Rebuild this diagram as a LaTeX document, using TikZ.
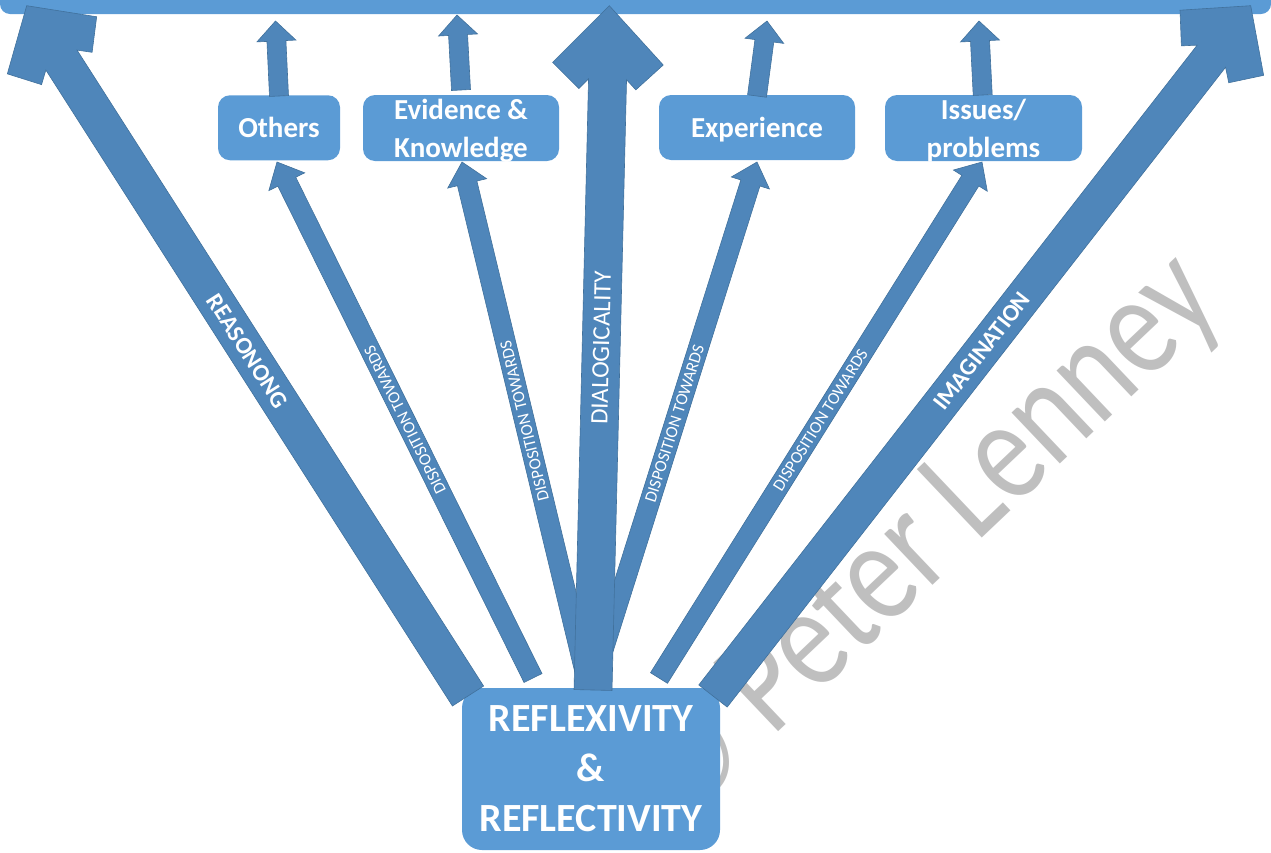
\documentclass[tikz,border=0pt]{standalone}
\usepackage{fontspec}
\setmainfont{Carlito}
\newfontfamily\wmfont[FakeStretch=0.80]{Carlito}
\usetikzlibrary{calc}
\definecolor{boxblue}{HTML}{5B9BD5}
\definecolor{arrblue}{HTML}{4F86BA}
\definecolor{arredge}{HTML}{41719C}
\definecolor{wmgray}{HTML}{BFBFBF}
% block arrow: tail, tip, shaft half width, head half width, head length
\newcommand{\blockarrow}[5]{%
  \coordinate (BKh) at ($(#2)!#5!(#1)$);
  \filldraw[arr] ($(#1)!#3!90:(#2)$) -- ($(BKh)!#3!-90:(#1)$) -- ($(BKh)!#4!-90:(#1)$) -- (#2)
    -- ($(BKh)!#4!90:(#1)$) -- ($(BKh)!#3!90:(#1)$) -- ($(#1)!#3!-90:(#2)$) -- cycle;
}
% big arrow with square head: tail, tip, w, b1, l1, b2, l2, b3
\newcommand{\bigarrow}[8]{%
  \coordinate (BAa) at ($(#2)!#4!(#1)$);
  \coordinate (BAb) at ($(#2)!#6!(#1)$);
  \coordinate (BAc) at ($(#2)!#8!(#1)$);
  \filldraw[arr] ($(#1)!#3!90:(#2)$) -- ($(BAc)!#3!-90:(#1)$) -- ($(BAb)!#7!-90:(#1)$)
    -- ($(BAa)!#5!-90:(#1)$) -- (#2) -- ($(BAa)!#5!90:(#1)$) -- ($(BAb)!#7!90:(#1)$)
    -- ($(BAc)!#3!90:(#1)$) -- ($(#1)!#3!-90:(#2)$) -- cycle;
}
\begin{document}
\begin{tikzpicture}[x=1pt,y=-1pt,
  arr/.style={fill=arrblue, draw=arredge, line width=0.6pt},
  topbox/.style={rounded corners=12pt, fill=boxblue, text=white, align=center, inner sep=0pt,
    text depth=0pt, font=\bfseries\fontsize{29}{38}\selectfont},
  bottombox/.style={rounded corners=20pt, fill=boxblue, text=white, align=center, inner sep=0pt,
    font=\bfseries\fontsize{40}{50}\selectfont},
  biglabel/.style={text=white, inner sep=0pt, font=\bfseries\fontsize{24}{24}\selectfont},
  dialabel/.style={text=white, inner sep=0pt, font=\fontsize{25}{25}\selectfont},
  displabel/.style={text=white, inner sep=0pt, font=\fontsize{17}{17}\selectfont},
  wmark/.style={text=wmgray, inner sep=0pt, font=\wmfont\fontsize{147}{147}\selectfont}]
\useasboundingbox (0,0) rectangle (1271,852);
% top band
\path[fill=boxblue, rounded corners=10pt] (0,-40) rectangle (1271,14);
% watermark
\node[wmark, rotate=43.5, anchor=base west] (wm) at (682,823) {© Peter Lenney};
% boxes
\node[bottombox, minimum width=258pt, minimum height=162pt] (refl) at (591,769) {REFLEXIVITY\\\&\\REFLECTIVITY};
\node[topbox, minimum width=122pt, minimum height=65pt] (others) at (279,127.75) {Others};
\node[topbox, minimum width=196pt, minimum height=66pt] (evid) at (461,128) {Evidence \&\\Knowledge};
\node[topbox, minimum width=196pt, minimum height=65pt] (exper) at (757,127.5) {Experience};
\node[topbox, minimum width=197pt, minimum height=66pt] (issues) at (983.5,128) {Issues/\\problems};
% connector end points
\coordinate (d1t) at (533,678); \coordinate (d1h) at (277,162);
\coordinate (d2t) at (587,680); \coordinate (d2h) at (462,162);
\coordinate (d3t) at (592,685); \coordinate (d3h) at (757,162);
\coordinate (d4t) at (659,678); \coordinate (d4h) at (982,162);
\coordinate (u1t) at (279,96);  \coordinate (u1h) at (275.5,21);
\coordinate (u2t) at (461,90);  \coordinate (u2h) at (457,15);
\coordinate (u3t) at (757,96);  \coordinate (u3h) at (767,21);
\coordinate (u4t) at (982.7,95); \coordinate (u4h) at (979,21);
\coordinate (reat) at (468,696); \coordinate (reah) at (26.7,5.7);
\coordinate (imat) at (713,696); \coordinate (imah) at (1250.7,5.7);
\coordinate (diat) at (593,690); \coordinate (diah) at (609.3,5.7);
% disposition arrows
\blockarrow{d1t}{d1h}{10pt}{20pt}{22pt}
\blockarrow{d2t}{d2h}{10pt}{20pt}{22pt}
\blockarrow{d3t}{d3h}{10pt}{20pt}{22pt}
\blockarrow{d4t}{d4h}{10pt}{20pt}{22pt}
% small arrows to the band
\blockarrow{u1t}{u1h}{9.5pt}{19.5pt}{20pt}
\blockarrow{u2t}{u2h}{9.5pt}{19.5pt}{20pt}
\blockarrow{u3t}{u3h}{9.5pt}{19.5pt}{20pt}
\blockarrow{u4t}{u4h}{9.5pt}{19.5pt}{20pt}
% big arrows
\bigarrow{reat}{reah}{18.5pt}{47pt}{53pt}{74.5pt}{30pt}{64.5pt}
\bigarrow{imat}{imah}{18pt}{47pt}{53pt}{74.3pt}{30pt}{64pt}
\bigarrow{diat}{diah}{19pt}{58pt}{55.3pt}{83.5pt}{28.5pt}{73.6pt}
% labels
\path (reat) -- (reah) node[midway, sloped, biglabel] {REASONONG};
\path (imat) -- (imah) node[midway, sloped, biglabel] {IMAGINATION};
\path (diat) -- (diah) node[midway, sloped, dialabel] {DIALOGICALITY};
\path (d1t) -- (d1h) node[midway, sloped, allow upside down, displabel] {DISPOSITION TOWARDS};
\path (d2t) -- (d2h) node[midway, sloped, allow upside down, displabel] {DISPOSITION TOWARDS};
\path (d3t) -- (d3h) node[midway, sloped, allow upside down, displabel] {DISPOSITION TOWARDS};
\path (d4t) -- (d4h) node[midway, sloped, allow upside down, displabel] {DISPOSITION TOWARDS};
\end{tikzpicture}
\end{document}
